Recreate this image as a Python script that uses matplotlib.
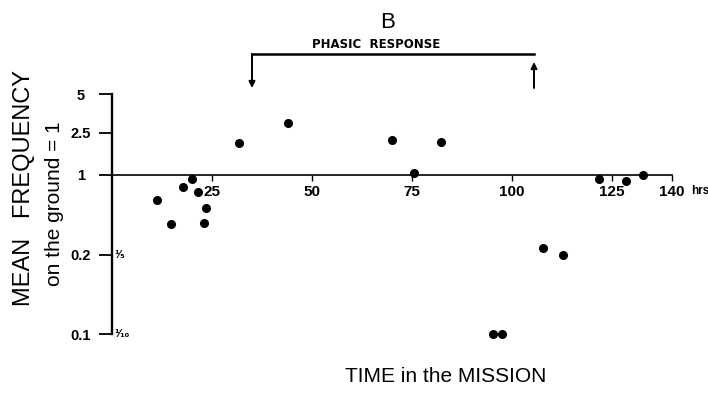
import numpy as np
import matplotlib
matplotlib.use("Agg")
import matplotlib.pyplot as plt
import matplotlib.transforms as mtransforms

plt.rcParams['font.family'] = ['Liberation Sans', 'DejaVu Sans']

# ---- data ----
hours = [11.25, 14.75, 17.75, 20.0, 21.5, 23.5, 23.0, 31.75, 44.0, 70.0, 75.5,
         82.25, 95.25, 97.5, 107.75, 112.75, 121.75, 128.5, 132.75]
freq = [0.61, 0.37, 0.78, 0.92, 0.71, 0.52, 0.38, 2.0, 3.0, 2.15, 1.04,
        2.05, 0.1, 0.1, 0.23, 0.2, 0.92, 0.885, 1.0]

ytick_vals = [0.1, 0.2, 1, 2.5, 5]
ytick_labels = ['0.1', '0.2', '1', '2.5', '5']
xtick_vals = [25, 50, 75, 100, 125, 140]
xtick_labels = ['25', '50', '75', '100', '125', '140']
phase_start, phase_end = 35, 105.5

# ---- custom (hand-drawn) vertical scale: piecewise log between tick marks ----
knot_log = np.log10(np.array(ytick_vals, float))
knot_pos = -np.array([334, 255, 175, 133, 94], float)


def _interp(x, xp, fp):
    x = np.asarray(x, float)
    y = np.interp(x, xp, fp)
    s0 = (fp[1] - fp[0]) / (xp[1] - xp[0])
    s1 = (fp[-1] - fp[-2]) / (xp[-1] - xp[-2])
    y = np.where(x < xp[0], fp[0] + (x - xp[0]) * s0, y)
    y = np.where(x > xp[-1], fp[-1] + (x - xp[-1]) * s1, y)
    return y


def fwd(v):
    v = np.clip(np.asarray(v, float), 1e-9, None)
    return _interp(np.log10(v), knot_log, knot_pos)


def inv(p):
    return 10 ** _interp(p, knot_pos, knot_log)


W, H = 708, 393
fig = plt.figure(figsize=(W / 100, H / 100), dpi=100)
ax = fig.add_axes([0, 0, 1, 1])
ax.set_yscale('function', functions=(fwd, inv))
ax.set_xlim(-112 / 4, (W - 112) / 4)
ax.set_ylim(float(inv(-H)), float(inv(0)))
ax.patch.set_alpha(0)

for s in ['top', 'right']:
    ax.spines[s].set_visible(False)
ax.spines['left'].set_position(('data', 0))
ax.spines['left'].set_bounds(0.1, 5)
ax.spines['left'].set_linewidth(1.7)
ax.spines['bottom'].set_position(('data', 1))
ax.spines['bottom'].set_bounds(0, 140)
ax.spines['bottom'].set_linewidth(1.2)

ax.set_yticks(ytick_vals)
ax.set_yticklabels(ytick_labels)
ax.yaxis.set_minor_locator(matplotlib.ticker.NullLocator())
ax.tick_params(axis='y', direction='out', length=9.5, width=1.3, pad=13,
               labelsize=10.5)
for lab in ax.get_yticklabels():
    lab.set_horizontalalignment('center')
    lab.set_fontweight('bold')

ax.set_xticks(xtick_vals)
ax.set_xticklabels(xtick_labels)
ax.tick_params(axis='x', direction='out', length=4, width=1.0, pad=3,
               labelsize=11)
for lab in ax.get_xticklabels():
    lab.set_fontweight('bold')

ax.plot(hours, freq, 'o', color='black', ms=5.5, mec='black', zorder=5)

blend = mtransforms.blended_transform_factory(ax.transData, ax.transAxes)
ax.text(144.8, 1 - 191 / H, 'hrs', transform=blend, fontsize=8.5,
        fontweight='bold', ha='left', va='center')
ax.text(0.6, 0.2, '¹⁄₅', fontsize=7.5, ha='left', va='center',
        family='DejaVu Sans', fontweight='bold')
ax.text(0.6, 0.1, '¹⁄₁₀', fontsize=7.5, ha='left', va='center',
        family='DejaVu Sans', fontweight='bold')

# phasic response bracket
ybar = 1 - 54 / H
ax.plot([phase_start, phase_end], [ybar, ybar], transform=blend,
        color='black', lw=1.8, clip_on=False)
ax.annotate('', xy=(phase_start, 1 - 88 / H), xytext=(phase_start, ybar),
            xycoords=blend, textcoords=blend,
            arrowprops=dict(arrowstyle='-|>', color='black', lw=1.4,
                            mutation_scale=9, shrinkA=0, shrinkB=0))
ax.annotate('', xy=(phase_end, 1 - 62 / H), xytext=(phase_end, 1 - 88 / H),
            xycoords=blend, textcoords=blend,
            arrowprops=dict(arrowstyle='-|>', color='black', lw=1.4,
                            mutation_scale=9, shrinkA=0, shrinkB=0))

fig.text(376 / W, 1 - 45 / H, 'PHASIC  RESPONSE', ha='center', va='center',
         fontsize=8.5, fontweight='bold', family='DejaVu Sans')
fig.text(388 / W, 1 - 22 / H, 'B', ha='center', va='center', fontsize=16)

fig.text(24 / W, 1 - 188 / H, 'MEAN   FREQUENCY', rotation=90, ha='center',
         va='center', fontsize=17)
fig.text(55 / W, 1 - 204 / H, 'on the ground = 1', rotation=90, ha='center',
         va='center', fontsize=15)
fig.text(446 / W, 1 - 377 / H, 'TIME in the MISSION', ha='center',
         va='center', fontsize=15)

fig.savefig('out.png', dpi=100, facecolor='white')
